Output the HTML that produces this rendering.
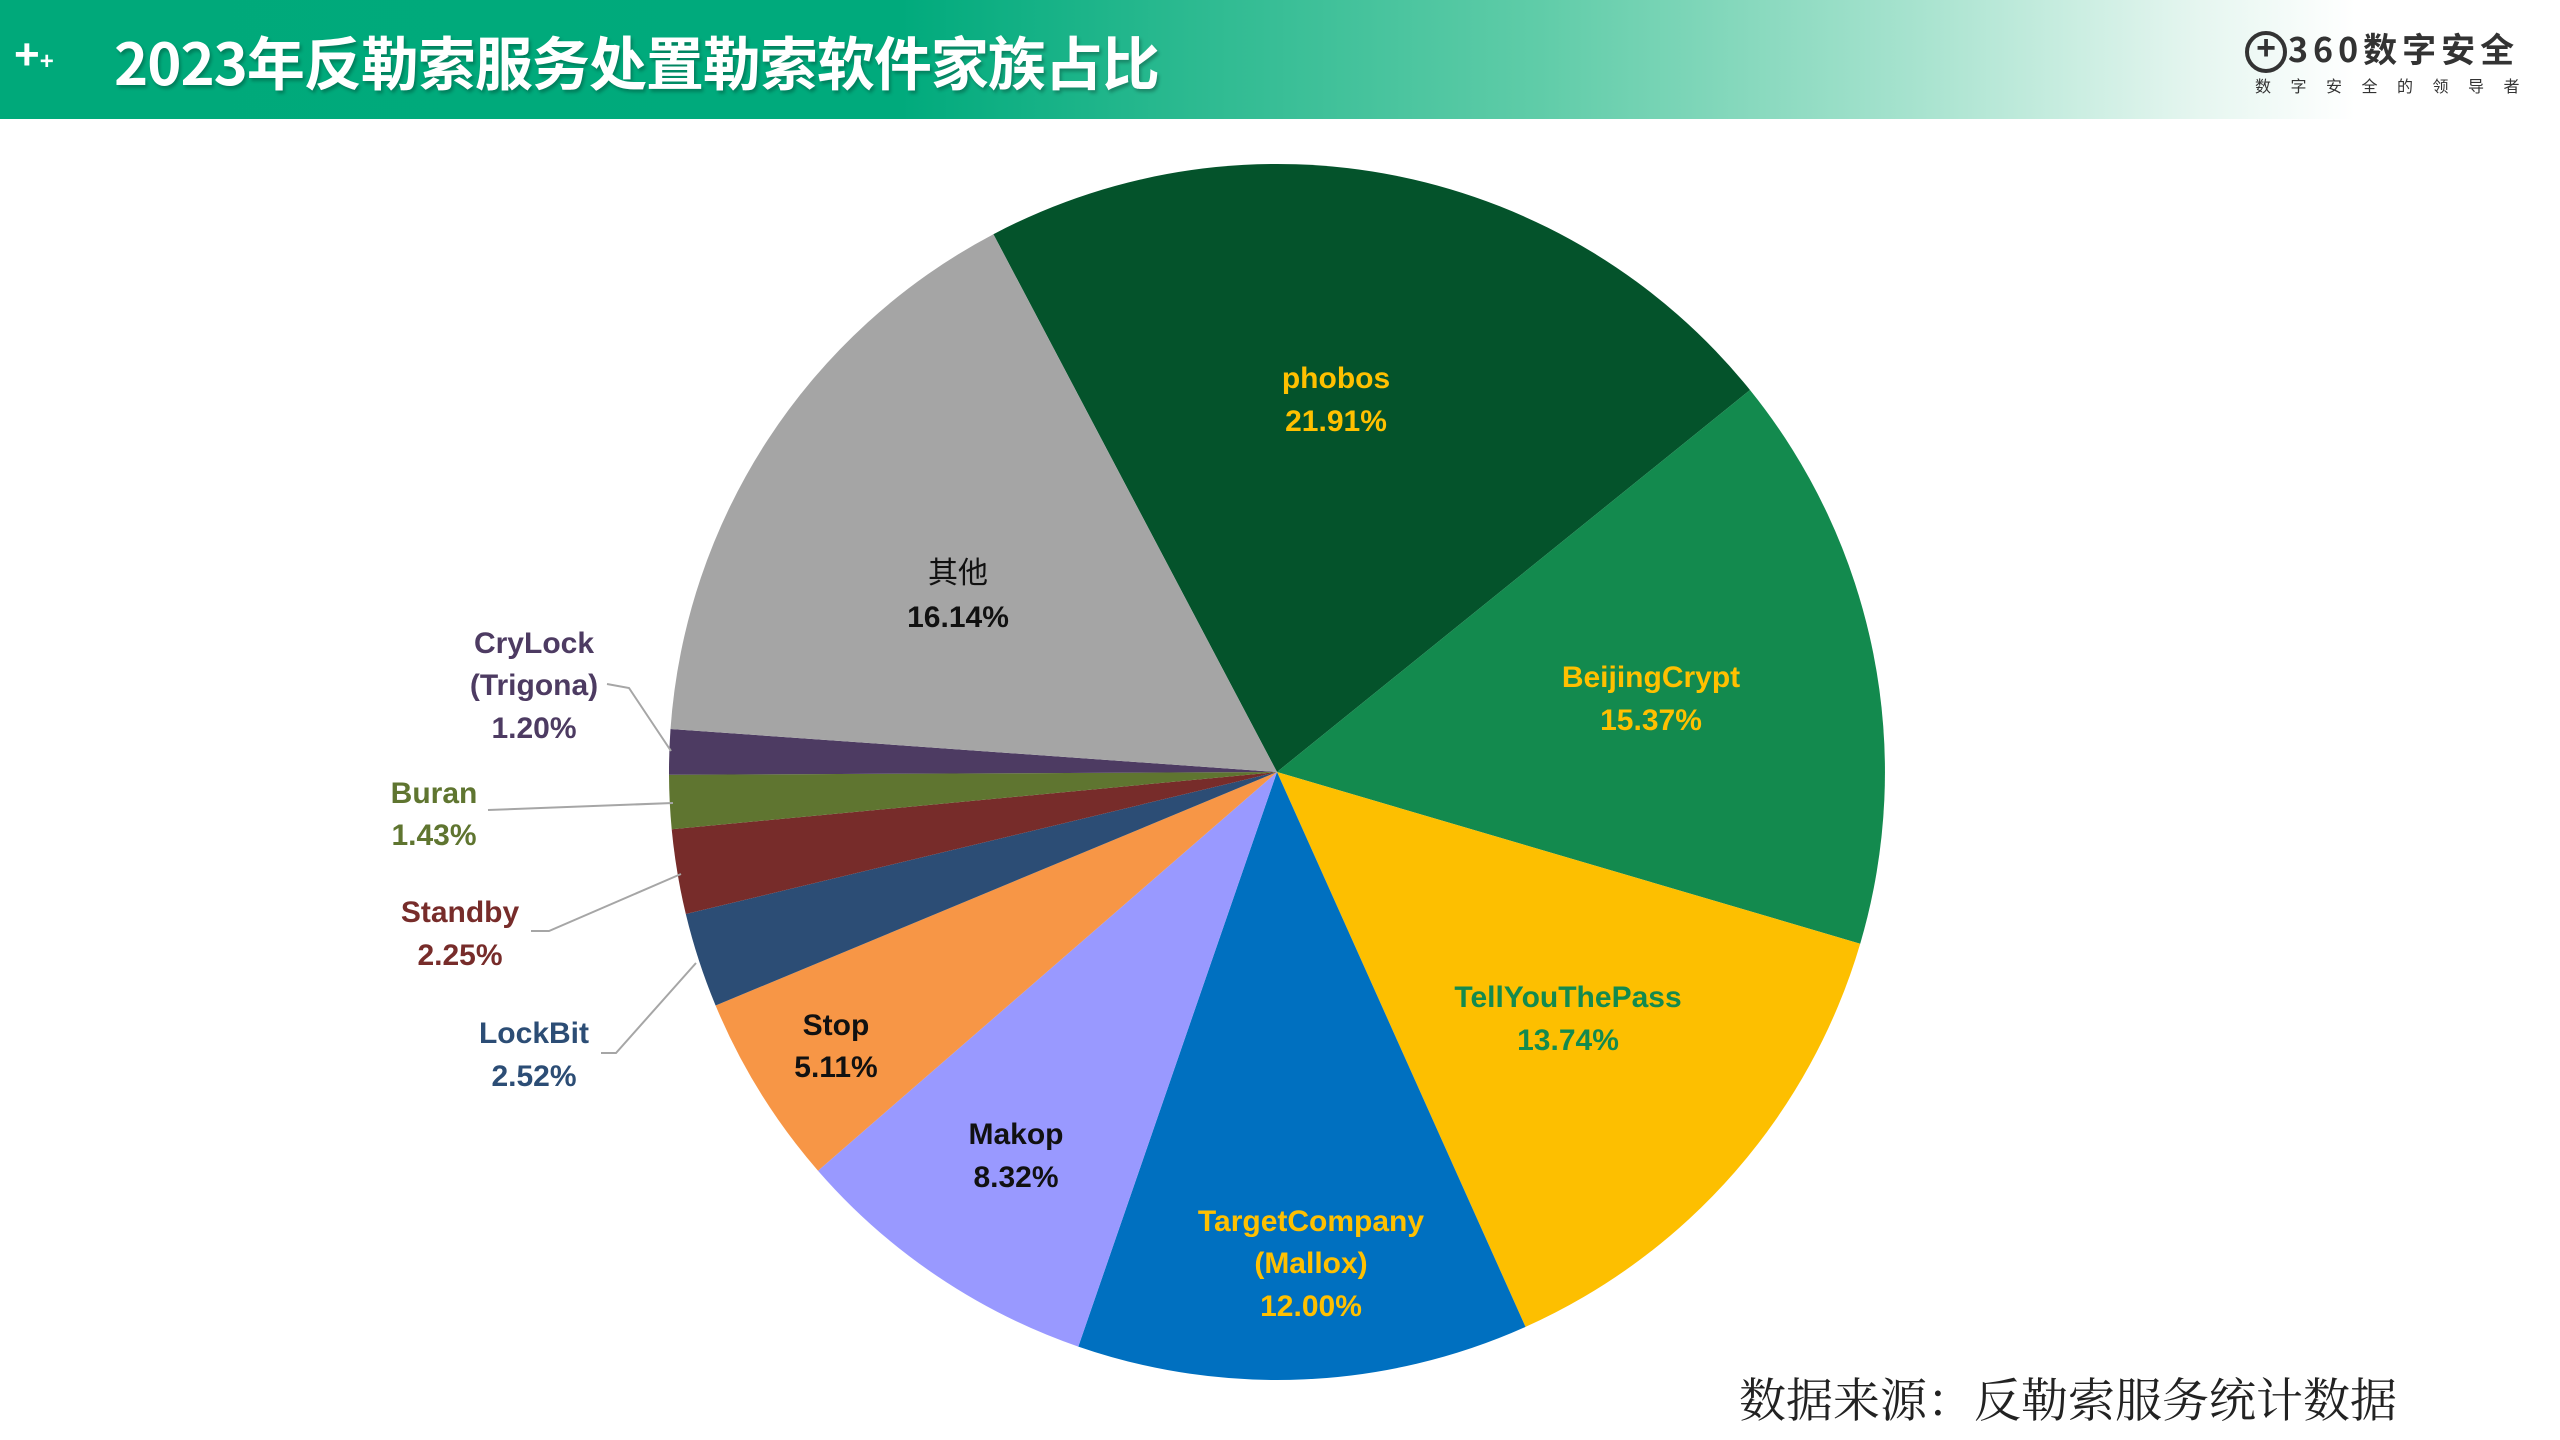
<!DOCTYPE html>
<html><head><meta charset="utf-8"><style>
html,body{margin:0;padding:0;background:#fff;}
body{width:2560px;height:1440px;position:relative;overflow:hidden;font-family:"Liberation Sans","Noto Sans CJK SC",sans-serif;}
#hdr{position:absolute;left:0;top:0;width:2560px;height:119px;background:linear-gradient(90deg,#00a97a 0%,#00aa7c 35%,#5fcca8 60%,#a8e3cf 75%,#e6f6f0 86%,#ffffff 92%);}
#title{position:absolute;left:114px;top:22px;font-size:58px;font-weight:bold;color:#fff;letter-spacing:-1px;text-shadow:2px 3px 3px rgba(0,0,0,0.25);font-family:"Noto Sans CJK SC","Liberation Sans",sans-serif;line-height:76px;}
#plus{position:absolute;left:14px;top:30px;color:#fff;font-size:44px;font-weight:bold;}
#logo{position:absolute;left:2288px;top:26px;font-size:34px;color:#333;font-family:"Noto Sans CJK SC",sans-serif;line-height:44px;font-weight:bold;letter-spacing:5px;}
#logoc{position:absolute;left:2245px;top:31px;width:34px;height:34px;border:4px solid #333;border-radius:50%;}
#logoc:after{content:"+";position:absolute;left:0;top:-6px;width:34px;text-align:center;font-size:34px;font-weight:bold;color:#333;}
#sub{position:absolute;left:2255px;top:73px;font-size:16px;color:#333;letter-spacing:19.5px;font-family:"Noto Sans CJK SC",sans-serif;}
#src{position:absolute;left:1739px;top:1364px;font-size:47px;color:#222;font-family:"Noto Serif CJK SC",serif;}
svg{position:absolute;left:0;top:0;}
text{font-family:"Liberation Sans","Noto Sans CJK SC",sans-serif;font-weight:bold;font-size:30px;text-anchor:middle;}
</style></head><body>
<div id="hdr"></div>
<div id="plus">+<span style="font-size:24px">+</span></div>
<div id="title">2023年反勒索服务处置勒索软件家族占比</div>
<div id="logoc"></div>
<div id="logo">360数字安全</div>
<div id="sub">数字安全的领导者</div>
<svg id="s" width="2560" height="1440" xmlns="http://www.w3.org/2000/svg">
<g id="pie"></g>
<g stroke="#a6a6a6" stroke-width="2" fill="none">
<polyline points="607,684 629,688 671,751"/>
<polyline points="488,810 673,803"/>
<polyline points="531,931 549,931 681,874"/>
<polyline points="601,1053 616,1053 696,963"/>
</g>
<g>
<text x="1336" y="388" fill="#ffc000">phobos</text><text x="1336" y="431" fill="#ffc000">21.91%</text>
<text x="958" y="583" fill="#111" style="font-weight:normal">其他</text><text x="958" y="627" fill="#111">16.14%</text>
<text x="1651" y="687" fill="#ffc000">BeijingCrypt</text><text x="1651" y="730" fill="#ffc000">15.37%</text>
<text x="1568" y="1007" fill="#138a4e">TellYouThePass</text><text x="1568" y="1050" fill="#138a4e">13.74%</text>
<text x="1311" y="1231" fill="#ffc000">TargetCompany</text><text x="1311" y="1273" fill="#ffc000">(Mallox)</text><text x="1311" y="1316" fill="#ffc000">12.00%</text>
<text x="1016" y="1144" fill="#111">Makop</text><text x="1016" y="1187" fill="#111">8.32%</text>
<text x="836" y="1035" fill="#111">Stop</text><text x="836" y="1077" fill="#111">5.11%</text>
<text x="534" y="1043" fill="#2c4d75">LockBit</text><text x="534" y="1086" fill="#2c4d75">2.52%</text>
<text x="460" y="922" fill="#772c2a">Standby</text><text x="460" y="965" fill="#772c2a">2.25%</text>
<text x="434" y="803" fill="#5f7530">Buran</text><text x="434" y="845" fill="#5f7530">1.43%</text>
<text x="534" y="653" fill="#4d3b62">CryLock</text><text x="534" y="695" fill="#4d3b62">(Trigona)</text><text x="534" y="738" fill="#4d3b62">1.20%</text>
</g>
</svg>
<div id="src">数据来源：反勒索服务统计数据</div>
<script>
var d=[[21.91,"#04532b"],[15.37,"#138a4e"],[13.74,"#fdbf00"],[12.00,"#0070c0"],[8.32,"#9999ff"],[5.11,"#f79646"],[2.52,"#2c4d75"],[2.25,"#772c2a"],[1.43,"#5f7530"],[1.20,"#4d3b62"],[16.15,"#a5a5a5"]];
var cx=1277,cy=772,r=608,a=-27.8,g=document.getElementById("pie"),h="";
function pt(deg){var t=deg*Math.PI/180;return (cx+r*Math.sin(t)).toFixed(1)+","+(cy-r*Math.cos(t)).toFixed(1);}
d.forEach(function(s){var b=a+s[0]*3.6;h+='<path d="M'+cx+','+cy+' L'+pt(a)+' A'+r+','+r+' 0 '+((b-a)>180?1:0)+' 1 '+pt(b)+' Z" fill="'+s[1]+'"/>';a=b;});
g.innerHTML=h;
</script>
</body></html>
